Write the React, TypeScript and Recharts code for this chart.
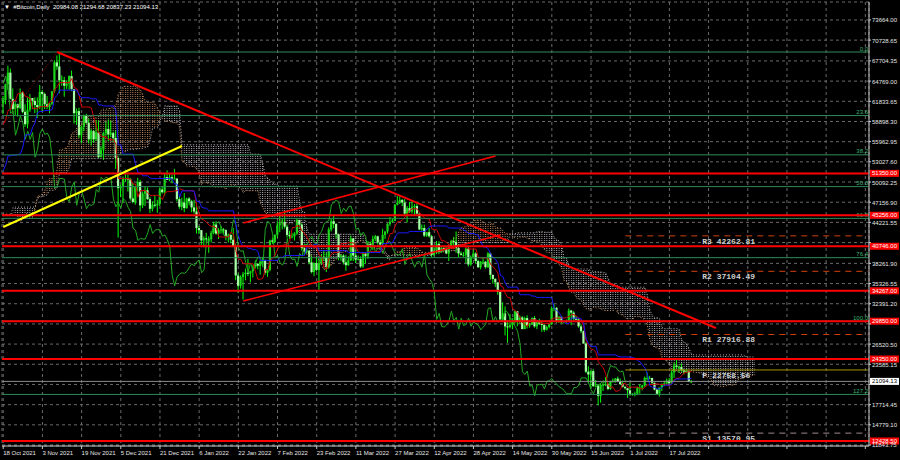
import React from 'react';
import {
  ComposedChart,
  Bar,
  Line,
  Area,
  XAxis,
  YAxis,
  CartesianGrid,
  ReferenceLine,
} from 'recharts';

// ---- data (prices in thousands of USD) ----

// Aug 2 - Oct 17 2021, only needed so the Ichimoku lines exist at the left edge
const preHigh = [
  40.4, 39.1, 39.9, 41.3, 43.0, 44.7, 45.3, 46.4, 46.6, 46.7, 46.2, 48.1, 47.9, 47.4, 48.0, 47.1, 46.0, 47.0, 49.4, 49.8, 49.5, 50.5, 49.8, 49.3, 49.3, 49.1, 49.3, 49.7, 48.9, 48.2,
  48.9, 50.4, 51.0, 50.6, 51.9, 52.8, 52.9, 47.3, 47.4, 47.1, 45.9, 46.4, 46.3, 47.2, 48.4, 48.5, 48.1, 48.8, 48.3, 47.3, 43.6, 44.0, 44.9, 45.0, 42.8, 43.9, 44.3, 42.8, 42.6, 44.1,
  48.4, 48.3, 49.1, 49.4, 51.8, 55.6, 55.3, 56.1, 55.4, 56.5, 57.8, 57.6, 57.4, 58.5, 62.8, 62.3, 61.7,
];
const preLow = [
  38.7, 37.7, 37.5, 37.5, 39.9, 42.5, 43.4, 42.9, 44.6, 45.4, 43.8, 44.1, 45.9, 45.6, 45.6, 44.4, 44.2, 43.9, 46.7, 48.3, 48.1, 49.0, 47.6, 47.2, 46.4, 46.5, 48.4, 47.8, 46.9, 46.8,
  46.6, 48.6, 48.4, 49.4, 49.5, 50.6, 44.0, 44.4, 45.5, 44.2, 44.8, 44.8, 43.4, 44.6, 46.8, 47.1, 46.8, 47.1, 46.9, 42.5, 40.0, 40.6, 43.1, 40.7, 41.7, 40.8, 42.2, 41.0, 41.2, 41.4,
  43.3, 47.1, 47.1, 46.9, 49.1, 50.4, 53.4, 53.7, 53.7, 54.1, 54.4, 54.0, 54.3, 56.8, 56.9, 60.2, 58.9,
];
const prevClose = 61.5;

// daily bars, 18 Oct 2021 - 26 Jul 2022
const high = [
  62.6, 64.4, 67.0, 66.6, 63.7, 61.7, 61.5, 63.7, 63.3, 61.4, 62.4, 62.9, 62.3, 62.4,
  62.4, 64.2, 63.5, 63.1, 62.6, 61.6, 63.3, 67.8, 68.5, 69.0, 65.6, 65.4, 64.9, 65.6, 66.3, 63.6, 60.8, 60.9, 58.3, 59.9, 60.0, 59.3, 57.8, 57.6, 59.1, 59.0, 55.3, 57.4, 58.8, 59.2,
  59.0, 57.4, 57.6, 53.8, 49.7, 50.9, 51.9, 51.2, 50.7, 50.0, 49.5, 50.7, 50.4, 48.7, 49.4, 49.3, 47.9, 47.3, 48.2, 47.5, 49.3, 49.5, 51.3, 51.8, 51.4, 51.2, 52.0, 50.6, 48.1, 47.8, 48.5,
  47.8, 47.9, 47.5, 47.5, 47.0, 43.7, 43.1, 42.2, 42.7, 42.2, 43.0, 44.3, 44.4, 43.4, 43.7, 43.4, 43.2, 42.6, 42.5, 43.4, 41.1, 36.8, 36.5, 37.0, 37.5, 38.9, 37.2, 38.0, 38.7, 38.3, 38.7,
  39.2, 38.8, 37.4, 41.7, 42.0, 42.5, 44.4, 45.3, 44.8, 45.8, 43.9, 43.0, 42.7, 42.8, 44.7, 44.5, 44.1, 40.9, 40.4, 40.1, 39.4, 38.4, 39.2, 38.9, 39.6, 40.2, 39.8, 43.5,
  44.8, 45.3, 44.1, 42.6, 39.6, 39.6, 39.5, 39.3, 42.3, 41.9, 40.2, 39.4, 39.3, 39.9, 39.8, 41.5, 41.4, 42.3, 42.4, 42.3, 41.7, 43.3, 42.9, 44.1, 45.0, 44.8, 46.9, 48.1, 48.2, 47.6, 47.6,
  46.6, 47.2, 47.4, 46.9, 47.1, 45.5, 43.9, 43.9, 42.8, 43.4, 42.4, 40.7, 41.5, 41.5, 40.8, 40.7, 40.6, 41.0, 41.7, 42.1, 42.9, 40.7, 40.0, 39.9, 40.5, 40.7, 39.4, 40.3, 39.9, 38.8,
  38.6, 39.1, 38.6, 39.9, 39.8, 36.6, 36.1, 35.5, 34.2, 32.6, 32.0, 30.0, 30.9, 30.3, 31.4, 31.3, 30.7, 30.6, 30.5, 30.7, 29.6, 30.4, 30.6, 29.8, 30.2, 29.8, 29.4, 29.2, 29.6, 32.0, 32.3,
  31.9, 30.6, 30.6, 29.9, 30.1, 31.7, 31.5, 31.3, 30.6, 30.3, 29.4, 28.5, 26.8, 23.3, 22.7, 22.9, 21.3, 20.7, 20.8, 21.0, 21.7, 20.9, 21.2, 21.5, 21.6, 21.8, 21.5, 21.2, 20.4, 20.1,
  20.9, 19.4, 19.6, 20.3, 20.7, 20.6, 21.8, 22.4, 21.9, 21.6, 20.9, 20.0, 20.2, 20.8, 21.2, 21.5, 21.6, 22.7, 23.8, 24.2, 23.4, 23.7, 22.9, 22.9, 22.6, 21.29468,
];
const low = [
  60.0, 61.4, 63.5, 62.1, 60.0, 59.7, 59.6, 60.7, 60.1, 58.1, 57.9, 60.3, 60.7, 60.1,
  59.4, 60.7, 60.4, 60.7, 60.7, 60.1, 61.3, 63.1, 66.4, 63.0, 64.1, 62.5, 63.6, 63.5, 63.3, 58.6, 58.4, 56.5, 55.7, 57.5, 58.5, 55.7, 55.4, 55.8, 56.1, 53.6, 53.7, 53.3, 56.8, 56.0,
  56.6, 55.9, 52.0, 42.0, 47.9, 47.1, 50.1, 48.7, 47.4, 47.0, 46.8, 48.7, 45.8, 46.3, 46.6, 47.5, 45.6, 45.8, 46.4, 45.6, 46.6, 48.4, 48.1, 50.4, 50.2, 49.9, 50.5, 47.3, 46.2, 46.0, 45.7,
  46.2, 46.7, 45.7, 45.5, 42.6, 42.5, 40.9, 40.6, 41.3, 39.8, 41.3, 42.5, 42.4, 41.8, 42.6, 42.6, 41.6, 41.3, 41.2, 40.6, 35.8, 34.0, 34.6, 33.0, 35.8, 36.4, 35.5, 36.2, 37.5, 37.4, 36.6,
  38.0, 36.6, 36.3, 37.1, 41.1, 41.2, 42.0, 42.8, 43.2, 43.3, 42.0, 41.8, 41.9, 41.6, 42.4, 43.4, 40.1, 39.5, 39.7, 38.1, 36.8, 36.4, 37.1, 34.4, 38.1, 38.6, 37.0, 37.5,
  42.9, 43.4, 41.9, 38.7, 38.6, 38.1, 37.2, 37.9, 38.6, 38.6, 38.3, 38.7, 37.6, 37.6, 38.2, 38.9, 40.5, 40.2, 41.5, 41.0, 40.5, 40.9, 41.8, 42.6, 43.7, 44.2, 44.4, 46.7, 46.9, 46.6, 45.2,
  44.2, 45.6, 45.5, 45.2, 45.4, 43.1, 43.0, 42.1, 42.1, 42.0, 39.2, 39.3, 39.6, 39.6, 39.8, 40.0, 39.6, 38.6, 40.6, 40.9, 39.8, 39.2, 39.4, 39.2, 38.3, 37.8, 37.9, 38.9, 38.2, 37.6,
  37.4, 38.1, 37.5, 37.6, 35.9, 35.3, 34.8, 33.7, 30.1, 29.8, 27.8, 26.7, 28.8, 28.7, 29.5, 29.1, 29.5, 28.7, 28.7, 28.8, 28.9, 29.3, 28.9, 28.7, 29.3, 28.3, 28.3, 28.5, 28.8, 29.3, 31.3,
  29.6, 29.6, 29.5, 29.5, 29.6, 29.9, 29.3, 29.9, 30.0, 28.9, 28.1, 26.6, 22.3, 20.8, 20.1, 20.3, 20.3, 17.6, 18.0, 19.7, 20.4, 19.8, 19.9, 20.9, 20.9, 21.0, 20.6, 20.2, 19.9, 18.7,
  19.0, 19.0, 18.9, 19.1, 19.3, 19.8, 20.3, 21.2, 21.4, 20.7, 19.8, 19.2, 18.9, 19.7, 20.4, 20.6, 20.8, 20.8, 21.6, 23.0, 22.4, 22.5, 22.1, 22.3, 21.0, 20.83723,
];
const close = [
  62.0, 64.3, 66.0, 62.2, 60.7, 61.4, 60.9, 63.1, 60.3, 58.5, 60.6, 62.3, 61.9, 61.3,
  61.0, 63.2, 62.9, 61.4, 61.0, 61.5, 63.3, 67.5, 66.9, 64.9, 64.9, 64.1, 64.4, 65.5, 63.6, 60.1, 60.4, 56.9, 58.1, 59.7, 58.7, 56.3, 57.5, 56.3, 57.3, 53.7, 54.8, 57.2, 57.8, 57.0,
  57.2, 56.5, 53.6, 49.2, 49.4, 50.6, 50.6, 50.5, 47.7, 47.2, 49.4, 50.1, 46.7, 48.4, 48.9, 47.6, 46.2, 46.8, 46.7, 46.9, 49.0, 48.6, 50.8, 50.4, 50.8, 50.6, 50.6, 47.6, 46.5, 47.1, 46.3,
  47.7, 47.3, 46.4, 45.8, 43.4, 43.1, 41.6, 41.9, 41.8, 41.8, 42.7, 43.9, 42.6, 43.1, 43.2, 43.1, 42.2, 42.4, 41.7, 40.7, 36.5, 35.0, 36.3, 36.7, 36.9, 36.8, 37.1, 37.7, 38.2, 37.9, 38.5,
  38.7, 36.9, 37.3, 41.6, 41.4, 42.4, 43.8, 44.1, 44.3, 43.6, 42.4, 42.2, 42.2, 42.6, 44.6, 43.9, 40.5, 40.0, 40.1, 38.4, 37.0, 38.3, 37.3, 38.3, 39.2, 39.1, 37.7, 43.2,
  44.4, 44.0, 42.5, 39.1, 39.4, 38.4, 38.0, 38.7, 41.9, 39.4, 38.8, 38.9, 37.8, 39.7, 39.3, 41.1, 40.9, 41.8, 42.2, 41.3, 41.0, 42.4, 42.9, 44.0, 44.3, 44.5, 46.8, 47.1, 47.5, 47.1, 45.5,
  46.3, 45.8, 46.5, 46.6, 45.5, 43.2, 43.4, 42.3, 42.8, 42.2, 39.5, 40.1, 41.1, 39.9, 40.5, 40.4, 39.7, 40.8, 41.5, 41.4, 40.5, 39.7, 39.5, 39.5, 40.4, 38.1, 39.2, 39.7, 38.6, 37.7,
  38.5, 38.5, 37.7, 39.7, 36.6, 36.0, 35.5, 34.1, 30.1, 31.0, 29.1, 29.0, 29.3, 29.9, 31.3, 29.9, 30.4, 28.7, 30.3, 29.2, 29.4, 30.3, 29.1, 29.7, 29.5, 29.3, 28.6, 29.0, 29.4, 31.7, 31.8,
  29.8, 30.5, 29.7, 29.9, 29.9, 31.4, 31.1, 30.2, 30.1, 29.1, 28.4, 26.6, 22.5, 22.1, 22.6, 20.4, 20.5, 19.0, 20.6, 20.6, 20.7, 20.0, 21.1, 21.2, 21.5, 21.0, 20.7, 20.3, 20.1, 19.8,
  19.3, 19.3, 19.3, 20.2, 20.2, 20.5, 21.6, 21.6, 21.6, 20.9, 19.9, 19.3, 20.2, 20.6, 20.8, 21.2, 20.8, 22.4, 23.4, 23.2, 23.2, 22.7, 22.5, 22.6, 21.0, 21.09413,
];
const titleOHLC = [20984.08, 21294.68, 20837.23, 21094.13];

const dateLabels = [
  '18 Oct 2021', '3 Nov 2021', '19 Nov 2021', '5 Dec 2021', '21 Dec 2021', '6 Jan 2022',
  '22 Jan 2022', '7 Feb 2022', '23 Feb 2022', '11 Mar 2022', '27 Mar 2022', '12 Apr 2022',
  '28 Apr 2022', '14 May 2022', '30 May 2022', '15 Jun 2022', '1 Jul 2022', '17 Jul 2022',
];
const daysPerLabel = 16;
const totalSlots = 354;

const priceTicks = [
  73664.0, 70728.65, 67704.35, 64769.0, 61833.65, 58898.3, 55962.95, 53027.6, 50092.25, 47156.9, 44221.55,
  41286.2, 38261.9, 35326.55, 32391.2, 29455.85, 26520.5, 23585.15, 20649.8, 17714.45, 14779.1, 11843.75,
];
const yMin = 11698;
const yMax = 76276;

const redLevels = [51350.0, 45256.0, 40746.0, 34267.0, 29850.0, 24350.0, 12428.5];
const fibHigh = 69000;
const fibLow = 29850;
const fibLevels = [0, 23.6, 38.2, 50.0, 61.8, 76.4, 100.0, 127.2];
const pivotNames = ['R3', 'R2', 'R1', 'P', 'S1'];
const pivotValues = [42262.81, 37104.49, 27916.88, 22758.56, 13570.95];
const pivotStart = 254;

// trend lines: [day index, price] pairs
const trendLines = [
  { from: [22, 69000], to: [291, 28858], color: '#ff0000', width: 2, dash: undefined },
  { from: [0, 43549], to: [73, 55331], color: '#ffff00', width: 2, dash: undefined },
  { from: [98, 44131], to: [201, 53876], color: '#ff0000', width: 1.6, dash: undefined },
  { from: [98, 32785], to: [203, 42385], color: '#ff0000', width: 1.6, dash: undefined },
  { from: [0, 58385], to: [22, 69000], color: '#a00000', width: 1, dash: '1 2' },
];

// ---- build chart rows ----
const K = 1000;
const PRE = preHigh.length;
const allHigh = [...preHigh, ...high];
const allLow = [...preLow, ...low];
const N = close.length;

function midRange(end: number, len: number) {
  let hi = -Infinity;
  let lo = Infinity;
  for (let j = Math.max(0, end - len + 1); j <= end; j++) {
    hi = Math.max(hi, allHigh[j]);
    lo = Math.min(lo, allLow[j]);
  }
  return ((hi + lo) / 2) * K;
}

const rows = Array.from({ length: totalSlots }, (_, i) => {
  const row: any = { i };
  if (i < N) {
    const f = i + PRE;
    row.o = i === N - 1 ? titleOHLC[0] : (i === 0 ? prevClose : close[i - 1]) * K;
    row.h = high[i] * K;
    row.l = low[i] * K;
    row.c = close[i] * K;
    row.candle = [row.l, row.h];
    row.tenkan = midRange(f, 9);
    row.kijun = midRange(f, 26);
  }
  if (i + 26 < N) row.chikou = close[i + 26] * K;
  if (i < N + 26) {
    const f0 = i + PRE - 26;
    const a = (midRange(f0, 9) + midRange(f0, 26)) / 2;
    const b = midRange(f0, 52);
    row.spanA = a;
    row.spanB = b;
    row.cloudUp = a >= b ? [b, a] : null;
    row.cloudDn = b > a ? [a, b] : null;
  }
  return row;
});

const FONT = '"Liberation Sans", Arial, sans-serif';
const MONO = '"Liberation Mono", "DejaVu Sans Mono", monospace';

// price labels sitting on the axis hide the tick labels right under them
const axisTags = [...redLevels, titleOHLC[3]];
const pxPerPrice = 444 / (yMax - yMin);

function Candle(props: any) {
  const { x, y, width, height, payload } = props;
  if (!payload || payload.o == null) return null;
  const top = Math.min(y, y + height);
  const bot = Math.max(y, y + height);
  const span = payload.h - payload.l || 1;
  const py = (v: number) => top + ((payload.h - v) / span) * (bot - top);
  const cx = x + width / 2;
  const yo = py(payload.o);
  const yc = py(payload.c);
  const bull = payload.c >= payload.o;
  return (
    <g>
      <line x1={cx} x2={cx} y1={top} y2={bot} stroke="#00ff00" strokeWidth={1} />
      <rect
        x={cx - 1.1}
        y={Math.min(yo, yc)}
        width={2.2}
        height={Math.max(1, Math.abs(yc - yo))}
        fill={bull ? '#19d619' : '#a8ffa8'}
      />
    </g>
  );
}

function PriceTick(props: any) {
  const { x, y, payload } = props;
  const covered = axisTags.some((t) => Math.abs(t - payload.value) * pxPerPrice < 3.9);
  if (covered) return null;
  return (
    <text x={x} y={y} dy={2.5} fill="#e6e6e6" fontSize={6} fontFamily={FONT} textAnchor="start">
      {payload.value.toFixed(2)}
    </text>
  );
}

function DateTick(props: any) {
  const { x, y, payload } = props;
  const s = dateLabels[payload.value / daysPerLabel];
  if (!s) return null;
  return (
    <text x={x} y={y} dy={5} fill="#e6e6e6" fontSize={6} fontFamily={FONT} textAnchor="start">
      {s}
    </text>
  );
}

function Tag(props: any) {
  const { viewBox, text, bg, fg } = props;
  if (!viewBox) return null;
  const x = viewBox.x + viewBox.width + 1;
  const y = viewBox.y;
  return (
    <g>
      <rect x={x} y={y - 3.5} width={29} height={7} fill={bg} />
      <text x={x + 2} y={y + 2.1} fontSize={6} fill={fg} fontFamily={FONT}>
        {text}
      </text>
    </g>
  );
}

function FibLabel(props: any) {
  const { viewBox, text } = props;
  if (!viewBox) return null;
  return (
    <text x={viewBox.x + viewBox.width - 1} y={viewBox.y - 1.5} textAnchor="end" fill="#3cb371" fontSize={6} fontFamily={FONT}>
      {text}
    </text>
  );
}

function PivotLabel(props: any) {
  const { viewBox, text } = props;
  if (!viewBox) return null;
  return (
    <text x={viewBox.x + 77} y={viewBox.y + 8} fill="#cfcfcf" fontSize={8} fontFamily={MONO} fontWeight="bold">
      {text}
    </text>
  );
}

export default function App() {
  const xTicks = Array.from({ length: Math.floor((totalSlots - 1) / daysPerLabel) + 1 }, (_, k) => k * daysPerLabel);
  return (
    <div style={{ position: 'absolute', left: 0, top: 0, width: 900, height: 460, background: '#000' }}>
      <div
        style={{
          position: 'absolute',
          left: 4,
          top: 3,
          color: '#ffffff',
          fontFamily: FONT,
          fontSize: 6,
          whiteSpace: 'pre',
          lineHeight: '8px',
        }}
      >
        {'\u25BC  #Bitcoin,Daily  ' + titleOHLC.map((v) => v.toFixed(2)).join(' ')}
      </div>
      <ComposedChart
        width={900}
        height={460}
        data={rows}
        margin={{ top: 2, right: 0, left: 2, bottom: 0 }}
      >
        <defs>
          <pattern id="dotSandy" patternUnits="userSpaceOnUse" width={2.45} height={2}>
            <rect x={0} y={0} width={1} height={1} fill="#e0a070" />
          </pattern>
          <pattern id="dotThistle" patternUnits="userSpaceOnUse" width={2.45} height={2}>
            <rect x={0} y={0} width={1} height={1} fill="#d8d0d8" />
          </pattern>
        </defs>
        <CartesianGrid stroke="#6a6a6a" strokeDasharray="3 3" />
        <XAxis
          dataKey="i"
          type="category"
          ticks={xTicks}
          interval={0}
          height={14}
          tick={<DateTick />}
          tickSize={3}
          tickMargin={1}
          axisLine={{ stroke: '#c8c8c8' }}
          tickLine={{ stroke: '#c8c8c8' }}
        />
        <YAxis
          orientation="right"
          width={31}
          type="number"
          domain={[yMin, yMax]}
          ticks={priceTicks}
          interval={0}
          tick={<PriceTick />}
          tickSize={2}
          tickMargin={1}
          axisLine={{ stroke: '#c8c8c8' }}
          tickLine={{ stroke: '#c8c8c8' }}
        />

        <Area dataKey="cloudUp" stroke="none" fill="url(#dotSandy)" fillOpacity={0.8} isAnimationActive={false} />
        <Area dataKey="cloudDn" stroke="none" fill="url(#dotThistle)" fillOpacity={0.8} isAnimationActive={false} />
        <Line dataKey="spanA" stroke="#c98a50" strokeDasharray="1 2" dot={false} strokeWidth={1} isAnimationActive={false} />
        <Line dataKey="spanB" stroke="#b8b0b8" strokeDasharray="1 2" dot={false} strokeWidth={1} isAnimationActive={false} />

        <Bar dataKey="candle" barSize={2} shape={(p: any) => <Candle {...p} />} isAnimationActive={false} />

        <Line dataKey="chikou" stroke="#22aa22" dot={false} strokeWidth={1} isAnimationActive={false} />
        <Line dataKey="tenkan" stroke="#d00000" dot={false} strokeWidth={1} isAnimationActive={false} />
        <Line dataKey="kijun" stroke="#1a1aff" dot={false} strokeWidth={1} isAnimationActive={false} />

        {fibLevels.map((lv) => (
          <ReferenceLine
            key={'fib' + lv}
            y={fibHigh - (lv / 100) * (fibHigh - fibLow)}
            stroke="#2e8b57"
            strokeWidth={1}
            label={<FibLabel text={lv.toFixed(1)} />}
          />
        ))}

        {pivotValues.map((v, k) => (
          <ReferenceLine
            key={'pv' + k}
            segment={[
              { x: pivotStart, y: v },
              { x: totalSlots - 1, y: v },
            ]}
            stroke={pivotNames[k] === 'P' ? '#a89400' : pivotNames[k].startsWith('R') ? '#d2400a' : '#a08c8c'}
            strokeDasharray={pivotNames[k] === 'P' ? undefined : '6 5'}
            strokeWidth={1}
            label={<PivotLabel text={pivotNames[k] + ' ' + v.toFixed(2)} />}
          />
        ))}

        <ReferenceLine
          y={titleOHLC[3]}
          stroke="#8c8c8c"
          strokeWidth={1}
          label={<Tag text={titleOHLC[3].toFixed(2)} bg="#ffffff" fg="#000000" />}
        />

        {redLevels.map((v) => (
          <ReferenceLine
            key={'red' + v}
            y={v}
            stroke="#ff0000"
            strokeWidth={2}
            label={<Tag text={v.toFixed(2)} bg="#ff0000" fg="#ffffff" />}
          />
        ))}

        {trendLines.map((t, k) => (
          <ReferenceLine
            key={'tl' + k}
            segment={[
              { x: t.from[0], y: t.from[1] },
              { x: t.to[0], y: t.to[1] },
            ]}
            stroke={t.color}
            strokeWidth={t.width}
            strokeDasharray={t.dash}
          />
        ))}
      </ComposedChart>
    </div>
  );
}
